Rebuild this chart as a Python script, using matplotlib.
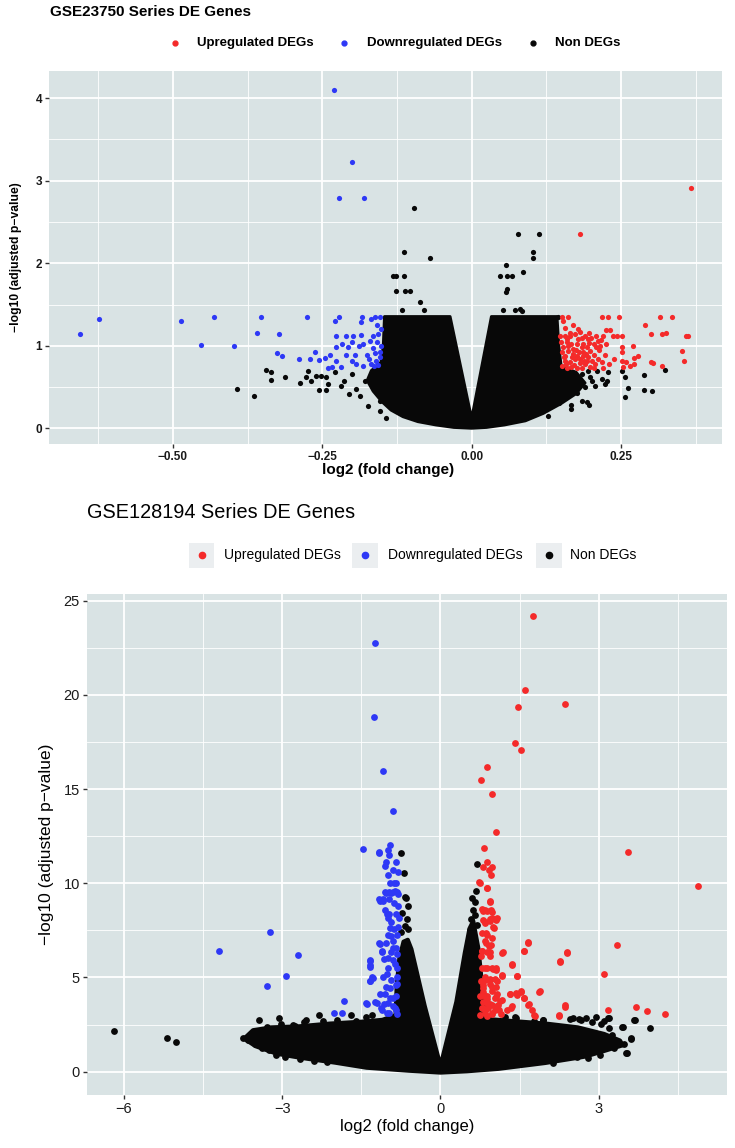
import numpy as np
import matplotlib
matplotlib.use('Agg')
import matplotlib.pyplot as plt
from matplotlib.lines import Line2D
from matplotlib.patches import Rectangle

plt.rcParams['font.family'] = ['Liberation Sans', 'DejaVu Sans']

W, H = 735, 1148
PANEL = '#D9E3E4'
RED = '#F42A2A'
BLUE = '#2E38F6'
BLACK = '#080808'

# ---------------- GSE23750 (top) ----------------
top_blue_x = [-0.230, -0.201, -0.222, -0.180, -0.655, -0.623, -0.487, -0.431, -0.453, -0.397,
              -0.352, -0.359, -0.322, -0.325, -0.318, -0.276, -0.289, -0.271, -0.263, -0.256,
              -0.246, -0.237, -0.240, -0.234, -0.229, -0.222, -0.227, -0.211, -0.227, -0.217,
              -0.207, -0.199, -0.200, -0.186, -0.182, -0.189, -0.183, -0.186, -0.170, -0.165,
              -0.157, -0.168, -0.162, -0.154, -0.227, -0.218, -0.211, -0.201, -0.196, -0.193,
              -0.182, -0.176, -0.171, -0.168, -0.162, -0.160, -0.154, -0.151, -0.154, -0.158,
              -0.152, -0.163, -0.156, -0.165, -0.158]
top_blue_y = [4.10, 3.23, 2.79, 2.79, 1.145, 1.33, 1.30, 1.355, 1.01, 0.996,
              1.355, 1.16, 1.145, 0.915, 0.875, 1.355, 0.84, 0.84, 0.92, 0.83,
              0.85, 0.89, 0.73, 0.745, 1.295, 1.355, 1.117, 1.117, 0.99, 1.02,
              0.99, 1.117, 1.05, 1.13, 1.02, 1.00, 1.355, 1.29, 1.06, 1.117,
              1.14, 1.32, 1.355, 1.355, 0.82, 0.745, 0.89, 0.82, 0.89, 0.78,
              0.76, 0.89, 0.84, 0.78, 0.91, 0.82, 0.86, 1.00, 0.92, 1.25,
              1.20, 0.75, 0.77, 0.97, 1.05]

top_red_x = [0.367, 0.181, 0.152, 0.161, 0.218, 0.229, 0.247, 0.315, 0.336, 0.290,
             0.170, 0.153, 0.225, 0.232, 0.220, 0.236, 0.243, 0.251, 0.301, 0.318,
             0.326, 0.359, 0.363, 0.352, 0.356, 0.318, 0.301, 0.303, 0.279, 0.270,
             0.271, 0.265, 0.271, 0.251, 0.252, 0.252, 0.258, 0.253, 0.238, 0.230,
             0.220, 0.219, 0.223, 0.225, 0.217,
             0.148, 0.156, 0.165, 0.173, 0.181, 0.190, 0.195, 0.204, 0.209, 0.159,
             0.167, 0.176, 0.184, 0.193, 0.153, 0.162, 0.170, 0.179, 0.187, 0.195,
             0.201, 0.206, 0.156, 0.165, 0.173, 0.181, 0.190, 0.198, 0.151, 0.159,
             0.167, 0.184, 0.204, 0.193, 0.176, 0.156, 0.151, 0.170, 0.187, 0.198,
             0.205, 0.211, 0.160, 0.178, 0.185, 0.200, 0.155, 0.168, 0.182, 0.192,
             0.175, 0.162, 0.158, 0.172, 0.188, 0.196, 0.214, 0.212, 0.165, 0.157,
             0.178, 0.196, 0.208, 0.215, 0.150, 0.176, 0.186]
top_red_y = [2.91, 2.35, 1.355, 1.355, 1.355, 1.355, 1.355, 1.355, 1.355, 1.25,
             1.25, 1.30, 1.19, 1.19, 1.117, 1.117, 1.117, 1.117, 1.145, 1.145,
             1.16, 1.117, 1.117, 0.935, 0.81, 0.754, 0.805, 0.79, 0.875, 1.00,
             0.85, 0.758, 0.78, 0.99, 0.92, 0.82, 0.805, 0.74, 0.84, 0.78,
             0.73, 0.80, 0.89, 1.02, 1.07,
             1.117, 1.117, 1.117, 1.141, 1.162, 1.121, 1.081, 1.020, 0.980, 1.040,
             1.020, 1.020, 0.980, 0.980, 0.980, 0.939, 0.899, 0.919, 0.879, 0.859,
             0.818, 0.778, 0.818, 0.798, 0.838, 0.786, 0.778, 0.745, 0.758, 0.737,
             0.745, 0.737, 0.737, 0.810, 0.729, 0.879, 0.919, 0.960, 1.020, 0.939,
             0.891, 0.838, 1.08, 1.08, 1.10, 1.10, 0.86, 0.86, 0.84, 0.90,
             0.95, 1.00, 0.78, 0.77, 0.82, 1.03, 0.95, 1.06, 1.16, 1.21,
             1.20, 1.16, 1.12, 1.00, 1.05, 0.88, 0.93]

top_black_x = [-0.393, -0.365, -0.345, -0.336, -0.336, -0.313, -0.288, -0.277, -0.274, -0.269,
               -0.260, -0.252, -0.244, -0.241, -0.256, -0.244, -0.229, -0.218, -0.206, -0.214,
               -0.201, -0.193, -0.187, -0.179, -0.174, -0.154, -0.154, -0.143,
               -0.096, -0.114, -0.069, -0.131, -0.126, -0.114, -0.127, -0.112, -0.103, -0.087,
               -0.116, -0.079, 0.078, 0.112, 0.103, 0.103, 0.057, 0.086, 0.047, 0.060,
               0.067, 0.059, 0.057, 0.053, 0.073, 0.081, 0.085, 0.145,
               0.324, 0.289, 0.289, 0.302, 0.256, 0.261, 0.256, 0.252, 0.229, 0.226,
               0.210, 0.218, 0.223, 0.206, 0.198, 0.193, 0.196, 0.184, 0.166, 0.166,
               0.156, 0.146, 0.127, 0.162, 0.176, 0.190, 0.156, 0.167, 0.181, 0.201,
               0.153, 0.167, 0.184, 0.195]
top_black_y = [0.48, 0.39, 0.705, 0.68, 0.58, 0.62, 0.555, 0.625, 0.70, 0.575,
               0.63, 0.63, 0.625, 0.535, 0.46, 0.46, 0.68, 0.515, 0.415, 0.575,
               0.655, 0.48, 0.39, 0.575, 0.27, 0.21, 0.33, 0.13,
               2.67, 2.14, 2.07, 1.85, 1.84, 1.84, 1.66, 1.67, 1.66, 1.525,
               1.43, 1.43, 2.35, 2.35, 2.14, 2.07, 1.98, 1.90, 1.84, 1.84,
               1.84, 1.69, 1.65, 1.43, 1.43, 1.44, 1.42, 1.355,
               0.71, 0.65, 0.46, 0.455, 0.38, 0.49, 0.62, 0.70, 0.685, 0.575,
               0.69, 0.60, 0.535, 0.515, 0.62, 0.325, 0.28, 0.33, 0.285, 0.23,
               0.365, 0.305, 0.15, 0.475, 0.43, 0.495, 0.575, 0.535, 0.596, 0.575,
               0.66, 0.68, 0.66, 0.70]

# outline of the dense non-DEG cloud
top_core_x = [0.0, -0.03, -0.06, -0.09, -0.115, -0.135, -0.15, -0.165, -0.175, -0.168,
              -0.152, -0.148, -0.146, -0.036, 0.0, 0.033, 0.143, 0.146, 0.15, 0.175,
              0.19, 0.175, 0.15, 0.12, 0.09, 0.055, 0.025, 0.0]
top_core_y = [0.0, 0.01, 0.04, 0.08, 0.14, 0.22, 0.32, 0.45, 0.58, 0.70,
              0.80, 1.0, 1.355, 1.355, 0.12, 1.355, 1.355, 1.0, 0.75, 0.68,
              0.55, 0.42, 0.30, 0.18, 0.09, 0.04, 0.01, 0.0]

# ---------------- GSE128194 (bottom) ----------------
bot_blue_x = [-1.246, -1.263, -1.094, -0.907, -1.468, -1.174, -1.174, -0.952, -0.996, -0.979,
              -1.023, -1.05, -0.845, -0.89, -0.80, -0.996, -0.952, -0.872, -1.05, -0.979,
              -0.89, -0.819, -1.157, -1.085, -0.979, -0.872, -0.80, -1.05, -0.979, -0.845,
              -0.783, -0.934, -0.872, -0.80, -0.996, -0.819, -0.907, -1.157, -1.023, -0.845,
              -1.112, -0.934, -0.819, -1.068, -1.335, -1.335, -0.89, -0.996, -0.819, -1.29,
              -1.335, -1.085, -0.934, -0.819, -1.023, -0.845, -1.139, -0.961, -0.845, -1.068,
              -1.246, -1.406, -0.907, -1.112, -0.979, -0.845, -1.824, -1.868, -2.02, -3.22,
              -4.20, -2.70, -2.92, -3.28,
              -1.33, -1.33, -1.34, -1.28, -1.15, -1.10, -1.15, -1.09, -1.02, -0.99,
              -0.96, -0.93, -0.90, -0.99, -0.86, -1.02, -0.96, -0.83, -1.05, -0.90,
              -0.99, -1.12, -1.21, -0.86, -1.02, -0.83, -1.40, -0.86, -0.80, -0.93,
              -1.04, -0.85]
bot_blue_y = [22.75, 18.83, 15.98, 13.82, 11.82, 11.67, 11.6, 12.04, 11.75, 11.49,
              11.15, 10.93, 11.15, 10.71, 10.6, 10.42, 10.04, 10.04, 9.53, 9.53,
              9.53, 9.53, 9.15, 9.08, 9.15, 8.93, 8.82, 8.59, 8.37, 8.37,
              8.15, 7.93, 7.59, 7.70, 7.26, 7.26, 6.92, 6.81, 6.81, 6.59,
              6.37, 6.37, 6.26, 5.97, 5.92, 5.65, 5.92, 5.48, 5.48, 5.03,
              4.81, 5.03, 4.85, 5.03, 4.47, 4.59, 4.14, 3.92, 4.03, 3.58,
              3.70, 3.65, 3.47, 3.25, 3.14, 3.25, 3.74, 3.14, 3.14, 7.44,
              6.39, 6.17, 5.08, 4.54,
              5.88, 5.56, 4.81, 4.99, 6.76, 6.41, 9.06, 9.15, 8.35, 8.18,
              7.65, 7.20, 6.58, 6.05, 5.70, 5.17, 4.46, 4.64, 4.11, 3.93,
              3.66, 3.40, 3.66, 3.40, 3.13, 3.08, 3.61, 9.59, 9.42, 9.50,
              9.50, 10.04]

bot_red_x = [1.744, 1.593, 1.459, 2.349, 1.406, 1.530, 0.890, 0.774, 0.979, 1.050,
             0.819, 3.559, 4.875, 0.801, 0.890, 0.979, 0.916, 0.961, 0.738, 0.890,
             0.934, 0.783, 0.845, 0.961, 0.801, 0.934, 1.068, 0.845, 1.0, 0.783,
             0.890, 0.845, 0.961, 1.655, 3.345, 2.402, 1.575, 1.183, 0.783, 0.890,
             0.934, 2.269, 1.361, 0.872, 0.979, 1.050, 3.096, 1.157, 1.45, 0.845,
             0.934, 1.068, 0.801, 0.979, 1.530, 1.423, 1.317, 1.877, 1.068, 0.890,
             0.756, 1.584, 1.673, 1.352, 1.263, 2.367, 3.701, 3.915, 4.244, 3.176,
             2.251, 1.779, 0.801, 0.934, 1.068, 0.845, 0.979, 1.112, 0.783, 0.890,
             1.023, 0.756, 0.890, 1.157, 0.765, 0.783, 0.765, 0.801,
             0.745, 0.88, 0.93, 0.80, 0.88, 0.98, 0.97, 1.06, 0.84, 0.93,
             1.02, 0.87, 0.97, 0.87, 0.92, 0.78, 0.93, 1.17, 1.66, 1.58,
             2.39, 2.27, 1.36, 0.84, 1.0, 1.05, 1.16, 1.45, 0.84, 1.03,
             0.93, 1.06, 0.80, 0.97, 1.31, 1.44, 1.53, 1.87, 1.58, 0.84,
             1.06, 1.12, 0.88, 0.98, 1.09, 0.80, 0.90, 1.03, 0.84, 0.97,
             1.66, 1.74, 2.35, 2.25, 1.79, 1.33, 1.14]
bot_red_y = [24.18, 20.26, 19.37, 19.52, 17.45, 17.10, 16.16, 15.47, 14.76, 12.73,
             11.89, 11.67, 9.88, 10.89, 11.11, 10.89, 10.71, 10.42, 10.08, 9.77,
             9.08, 8.64, 8.59, 8.59, 8.04, 8.10, 8.15, 7.93, 7.70, 7.37,
             7.26, 6.92, 6.70, 6.88, 6.72, 6.34, 6.43, 6.34, 6.41, 6.37,
             6.14, 5.88, 5.70, 5.52, 5.48, 5.48, 5.21, 5.14, 5.10, 5.03,
             4.92, 4.81, 4.59, 4.47, 4.30, 4.19, 4.14, 4.27, 4.14, 4.03,
             4.03, 3.92, 3.58, 3.47, 3.29, 3.52, 3.45, 3.23, 3.07, 3.25,
             3.0, 3.03, 3.70, 3.58, 3.47, 3.25, 3.14, 3.25, 3.36, 3.87,
             3.92, 3.03, 2.98, 3.81, 4.81, 5.48, 6.14, 4.25,
             10.04, 9.73, 9.03, 8.53, 8.53, 8.50, 8.18, 8.04, 7.91, 8.0,
             7.65, 7.38, 7.12, 6.85, 6.67, 6.41, 6.37, 6.32, 6.85, 6.41,
             6.32, 5.84, 5.66, 5.52, 5.43, 5.38, 5.08, 5.08, 4.85, 4.90,
             4.64, 4.50, 4.42, 4.28, 4.11, 4.07, 4.25, 4.23, 3.89, 4.02,
             3.96, 3.75, 3.66, 3.54, 3.54, 3.40, 3.36, 3.26, 3.13, 3.08,
             3.54, 3.26, 3.43, 2.96, 2.96, 3.40, 3.08]

bot_black_x = [-6.18, -5.18, -5.00, -3.44, -3.05, -2.31, -2.54, -2.76, -1.69, -1.29,
               -0.74, -0.69, -0.667, -0.657, -0.61, -0.73, -0.64, -0.67, -0.61, -0.74,
               0.694, 0.667, 0.60, 0.65, 0.62, 0.66, 0.58, 0.70, 0.55,
               1.42, 1.94, 2.51, 2.67, 2.94, 3.19, 3.04, 3.20, 3.69, 3.97,
               3.45, 3.60, 3.52, 3.47, 3.29, 3.02, 2.58, 2.14,
               -3.74, -3.65, -3.51, -3.38, -3.25, -3.11, -2.94, -2.67, -2.40, -2.14,
               -3.43, -3.29, -3.02, -2.80, -2.58, -2.22, -1.96, -1.60, -1.42,
               3.53, 3.67, 3.61, 3.44, 3.18, 3.09, 3.25, 3.28, 2.99, 2.80,
               2.76, 2.63, 2.45, 2.87, 1.95, 1.78, 1.43, 1.23, 1.04]
bot_black_y = [2.14, 1.80, 1.56, 2.76, 2.85, 3.0, 2.76, 2.40, 3.03, 3.03,
               11.6, 10.55, 9.26, 9.2, 8.8, 8.4, 8.1, 7.75, 7.6, 7.4,
               11.04, 9.6, 9.2, 9.0, 8.6, 8.3, 8.1, 7.8, 7.5,
               2.92, 2.76, 2.85, 2.76, 2.92, 2.85, 2.54, 2.32, 2.76, 2.34,
               2.36, 1.80, 0.98, 1.47, 1.25, 0.91, 0.80, 0.47,
               1.80, 1.69, 1.47, 1.25, 1.14, 0.91, 0.80, 0.69, 0.58, 0.53,
               2.14, 2.36, 2.54, 2.47, 2.63, 2.69, 2.76, 2.69, 2.92,
               1.01, 2.74, 1.72, 2.39, 2.83, 2.71, 1.95, 1.42, 1.15, 0.71,
               2.83, 2.77, 2.77, 2.66, 2.75, 2.71, 2.83, 2.92, 2.30]

bot_core_x = [0.0, -0.6, -1.4, -2.0, -2.66, -3.1, -3.5, -3.72, -3.55, -3.2,
              -2.7, -2.1, -1.5, -1.1, -0.85, -0.83, -0.78, -0.70, -0.62, -0.55,
              -0.3, 0.0, 0.3, 0.46, 0.55, 0.62, 0.72, 0.78, 0.87, 1.3,
              2.0, 2.6, 3.1, 3.4, 3.45, 3.1, 2.74, 1.98, 1.1, 0.5, 0.0]
bot_core_y = [-0.05, 0.05, 0.21, 0.48, 0.74, 0.95, 1.35, 1.75, 2.2, 2.35,
              2.4, 2.55, 2.65, 2.75, 3.0, 4.5, 6.0, 6.9, 7.0, 6.5,
              3.5, 0.3, 3.7, 6.3, 7.6, 8.0, 6.5, 4.8, 2.8, 2.7,
              2.55, 2.35, 2.0, 1.65, 1.4, 1.1, 0.8, 0.46, 0.15, 0.02, -0.05]

legend_labels = ['Upregulated DEGs', 'Downregulated DEGs', 'Non DEGs']
legend_colors = [RED, BLUE, BLACK]


def px_box(l, t, r, b):
    return [l / W, 1 - b / H, (r - l) / W, (b - t) / H]


def style_panel(ax, xlim, ylim, xmaj, xmin, ymaj, ymin, xlabs, fs, weight):
    ax.set_facecolor(PANEL)
    ax.set_xlim(*xlim)
    ax.set_ylim(*ylim)
    ax.set_xticks(xmaj)
    ax.set_xticklabels(xlabs)
    ax.set_xticks(xmin, minor=True)
    ax.set_yticks(ymaj)
    ax.set_yticks(ymin, minor=True)
    ax.grid(which='major', color='white', lw=1.3)
    ax.grid(which='minor', color='white', lw=0.6)
    ax.set_axisbelow(True)
    for s in ax.spines.values():
        s.set_visible(False)
    ax.tick_params(which='major', length=3, width=1.0, color='#333333',
                   labelsize=fs, labelcolor='#1a1a1a', pad=2)
    ax.tick_params(which='minor', length=0)
    for lab in ax.get_xticklabels() + ax.get_yticklabels():
        lab.set_fontweight(weight)


def draw_volcano(ax, core_x, core_y, bx, by, kx, ky, rx, ry, s, edge_lw):
    ax.fill(core_x, core_y, color=BLACK, lw=edge_lw, ec=BLACK, joinstyle='round', zorder=2)
    ax.scatter(kx, ky, s=s, color=BLACK, lw=0, zorder=3)
    ax.scatter(bx, by, s=s, color=BLUE, lw=0, zorder=4)
    ax.scatter(rx, ry, s=s, color=RED, lw=0, zorder=4)


def draw_legend(fig, dots, texts, yc, fs, weight, ms, boxes=None):
    for i, (lab, col) in enumerate(zip(legend_labels, legend_colors)):
        if boxes is not None:
            l, r = boxes[i]
            fig.add_artist(Rectangle((l / W, 1 - (yc + 12.5) / H), (r - l) / W, 25 / H,
                                     transform=fig.transFigure, color='#EBEEF0', lw=0))
        fig.add_artist(Line2D([dots[i] / W], [1 - yc / H], transform=fig.transFigure,
                              marker='o', ms=ms, color=col, lw=0))
        fig.text(texts[i] / W, 1 - yc / H, lab, fontsize=fs, fontweight=weight,
                 ha='left', va='center')


fig = plt.figure(figsize=(W / 100, H / 100), dpi=100)

# top panel
ax1 = fig.add_axes(px_box(49.3, 71, 721.7, 444))
draw_volcano(ax1, top_core_x, top_core_y, top_blue_x, top_blue_y,
             top_black_x, top_black_y, top_red_x, top_red_y, s=14, edge_lw=2.0)
style_panel(ax1, (-0.707, 0.4186), (-0.19, 4.33),
            [-0.5, -0.25, 0.0, 0.25], [-0.625, -0.375, -0.125, 0.125, 0.375],
            [0, 1, 2, 3, 4], [0.5, 1.5, 2.5, 3.5],
            ['\u22120.50', '\u22120.25', '0.00', '0.25'], 8.5, 'bold')
fig.text(50 / W, 1 - 12 / H, 'GSE23750 Series DE Genes', fontsize=11, fontweight='bold',
         ha='left', va='center')
fig.text(388 / W, 1 - 470 / H, 'log2 (fold change)', fontsize=11, fontweight='bold',
         ha='center', va='center')
fig.text(16 / W, 1 - 257.5 / H, '\u2212log10 (adjusted p\u2212value)', fontsize=8.7,
         fontweight='bold', rotation=90, ha='center', va='center')
draw_legend(fig, [174.6, 344, 533], [197, 367, 555], 43, 9.5, 'bold', 3.5)

# bottom panel
ax2 = fig.add_axes(px_box(86.7, 594, 726.7, 1095))
draw_volcano(ax2, bot_core_x, bot_core_y, bot_blue_x, bot_blue_y,
             bot_black_x, bot_black_y, bot_red_x, bot_red_y, s=24, edge_lw=3.0)
style_panel(ax2, (-6.70, 5.42), (-1.24, 25.36),
            [-6, -3, 0, 3], [-4.5, -1.5, 1.5, 4.5],
            [0, 5, 10, 15, 20, 25], [2.5, 7.5, 12.5, 17.5, 22.5],
            ['\u22126', '\u22123', '0', '3'], 10.5, 'normal')
fig.text(87 / W, 1 - 512 / H, 'GSE128194 Series DE Genes', fontsize=14.3,
         ha='left', va='center')
fig.text(406.7 / W, 1 - 1126 / H, 'log2 (fold change)', fontsize=12,
         ha='center', va='center')
fig.text(47 / W, 1 - 844.5 / H, '\u2212log10 (adjusted p\u2212value)', fontsize=12.5,
         rotation=90, ha='center', va='center')
draw_legend(fig, [201.5, 365, 549], [224, 388, 570], 555, 10, 'normal', 4.5,
            boxes=[(189, 214), (352, 378), (536, 562)])

fig.savefig('out.png', dpi=100)
